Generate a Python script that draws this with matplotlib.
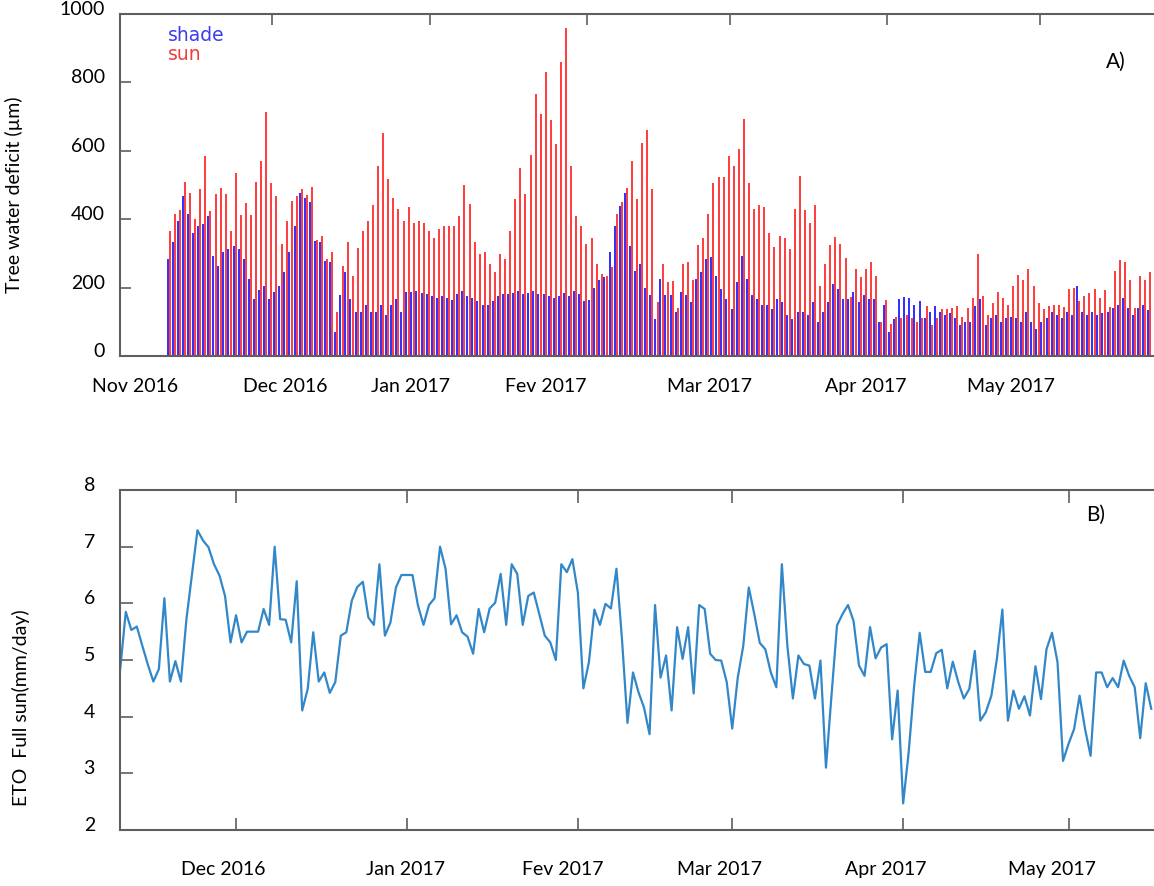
import numpy as np
import matplotlib
matplotlib.use("Agg")
import matplotlib.pyplot as plt
import matplotlib.dates as mdates

plt.rcParams['font.family'] = ['Lato', 'DejaVu Sans']

# --- data ---
# A) daily peak of tree water deficit (um), one value per day from 10 Nov 2016
twd_start = '2016-11-10'
sun_peak = [
    366, 415, 427, 509, 476, 400, 489, 585, 424, 473,
    492, 473, 366, 536, 412, 447, 412, 509, 570, 713,
    505, 468, 327, 395, 454, 468, 489, 470, 494, 340,
    352, 284, 303, 128, 264, 334, 235, 315, 366, 395,
    441, 556, 653, 519, 463, 431, 395, 437, 389, 395,
    390, 366, 344, 371, 381, 381, 381, 408, 499, 444,
    334, 298, 303, 269, 247, 298, 284, 366, 458, 551,
    473, 589, 765, 709, 830, 691, 620, 860, 960, 555,
    410, 381, 327, 344, 269, 240, 235, 260, 415, 450,
    492, 570, 458, 623, 662, 487, 158, 269, 216, 218,
    140, 269, 274, 221, 325, 344, 415, 507, 524, 524,
    585, 557, 606, 693, 507, 429, 441, 437, 359, 318,
    352, 344, 313, 429, 526, 427, 389, 441, 206, 269,
    325, 347, 327, 286, 172, 255, 230, 255, 274, 235,
    99, 163, 95, 114, 110, 120, 110, 100, 110, 146,
    90, 110, 136, 136, 140, 146, 114, 140, 169, 298,
    175, 120, 156, 187, 169, 150, 206, 237, 221, 253,
    206, 156, 138, 146, 148, 148, 143, 195, 199, 160,
    175, 185, 196, 169, 192, 143, 250, 282, 276, 221,
    140, 235, 221, 246,
]
shade_peak = [
    284, 332, 395, 468, 415, 361, 381, 385, 410, 293,
    264, 303, 313, 323, 313, 284, 226, 167, 192, 206,
    167, 187, 206, 245, 303, 381, 476, 463, 449, 337,
    332, 279, 274, 70, 177, 245, 167, 128, 128, 148,
    128, 128, 148, 119, 148, 167, 128, 187, 187, 190,
    185, 180, 175, 170, 175, 170, 165, 180, 190, 175,
    170, 160, 150, 150, 160, 175, 180, 180, 185, 190,
    180, 185, 190, 180, 180, 175, 170, 175, 185, 175,
    190, 180, 160, 165, 200, 221, 230, 303, 381, 439,
    478, 323, 250, 269, 200, 177, 109, 226, 177, 177,
    128, 187, 177, 158, 226, 245, 284, 289, 235, 196,
    167, 138, 216, 293, 226, 177, 167, 148, 148, 138,
    167, 158, 119, 109, 128, 128, 119, 158, 99, 128,
    158, 211, 196, 167, 167, 187, 158, 177, 167, 167,
    99, 148, 70, 109, 167, 172, 169, 150, 162, 110,
    128, 146, 130, 120, 125, 110, 90, 100, 100, 146,
    167, 90, 110, 120, 100, 110, 115, 110, 100, 130,
    100, 80, 100, 110, 130, 120, 110, 130, 120, 206,
    130, 120, 130, 120, 125, 130, 140, 150, 170, 140,
    120, 140, 150, 135,
]

# B) daily ET0 full sun (mm/day), from 10 Nov 2016
eto_start = '2016-11-10'
eto_full_sun = [
    4.85, 5.85, 5.53, 5.59, 5.25, 4.92, 4.62, 4.84, 6.09, 4.62,
    4.98, 4.62, 5.72, 6.50, 7.29, 7.11, 6.99, 6.69, 6.49, 6.13,
    5.31, 5.79, 5.31, 5.50, 5.50, 5.50, 5.90, 5.62, 7.00, 5.72,
    5.71, 5.31, 6.39, 4.11, 4.49, 5.49, 4.62, 4.78, 4.42, 4.61,
    5.43, 5.49, 6.05, 6.29, 6.38, 5.75, 5.62, 6.69, 5.43, 5.66,
    6.28, 6.50, 6.50, 6.50, 5.96, 5.62, 5.97, 6.09, 7.00, 6.61,
    5.63, 5.79, 5.49, 5.41, 5.11, 5.90, 5.49, 5.91, 6.01, 6.52,
    5.62, 6.69, 6.52, 5.62, 6.13, 6.19, 5.81, 5.43, 5.31, 5.00,
    6.69, 6.55, 6.78, 6.19, 4.50, 4.96, 5.89, 5.62, 5.99, 5.91,
    6.61, 5.37, 3.89, 4.78, 4.43, 4.16, 3.69, 5.97, 4.69, 5.08,
    4.11, 5.58, 5.02, 5.58, 4.41, 5.97, 5.90, 5.11, 5.00, 4.99,
    4.61, 3.79, 4.69, 5.25, 6.28, 5.81, 5.30, 5.19, 4.78, 4.52,
    6.69, 5.25, 4.32, 5.08, 4.93, 4.90, 4.32, 4.99, 3.10, 4.37,
    5.61, 5.81, 5.97, 5.69, 4.90, 4.72, 5.58, 5.03, 5.22, 5.28,
    3.60, 4.46, 2.47, 3.37, 4.55, 5.48, 4.79, 4.79, 5.12, 5.18,
    4.50, 4.97, 4.61, 4.32, 4.49, 5.16, 3.93, 4.08, 4.37, 5.02,
    5.89, 3.93, 4.46, 4.14, 4.36, 4.02, 4.89, 4.31, 5.19, 5.48,
    4.96, 3.22, 3.52, 3.78, 4.37, 3.78, 3.31, 4.78, 4.78, 4.52,
    4.68, 4.52, 4.99, 4.72, 4.52, 3.62, 4.59, 4.14,
]

month_ticks = ['2016-12-01', '2017-01-01', '2017-02-01', '2017-03-01',
               '2017-04-01', '2017-05-01']
labels_a = ['Nov 2016', 'Dec 2016', 'Jan 2017', 'Fev 2017', 'Mar 2017',
            'Apr 2017', 'May 2017']
labels_b = ['Dec 2016', 'Jan 2017', 'Fev 2017', 'Mar 2017', 'Apr 2017',
            'May 2017']


def dnum(s):
    return mdates.datestr2num(s)


# --- layout (pixel based, figure is 1154 x 887) ---
W, H = 1154, 887
fig = plt.figure(figsize=(W / 100, H / 100), dpi=100)
ax_a = fig.add_axes([120 / W, 1 - 357 / H, 1034 / W, 342 / H])
ax_b = fig.add_axes([120 / W, 1 - 831 / H, 1034 / W, 340 / H])

spine_col = '#5f5f5f'
for ax in (ax_a, ax_b):
    for side in ('left', 'top', 'bottom'):
        ax.spines[side].set_color(spine_col)
        ax.spines[side].set_linewidth(1.5)
    ax.spines['right'].set_visible(False)

# --- panel A ---
day_a = dnum(twd_start) + np.arange(len(sun_peak))
ax_a.vlines(day_a + 0.8, 0, sun_peak, color='#ff2424', lw=1.25)
ax_a.vlines(day_a + 0.35, 0, shade_peak, color='#2626ff', lw=1.35)

ax_a.set_xlim(dnum('2016-11-01'), dnum('2016-11-01') + 203.5)
ax_a.set_ylim(0, 1000)
ax_a.set_yticks(np.arange(0, 1001, 200), labels=[str(v) for v in range(0, 1001, 200)],
                va='baseline')
ax_a.tick_params(axis='y', direction='in', length=8, width=1.2, color=spine_col,
                 labelsize=14, pad=11)

ax_a.set_xticks([dnum(d) for d in month_ticks])
ax_a.tick_params(axis='x', which='major', direction='in', top=True, bottom=False,
                 labelbottom=False, length=8, width=1.2, color=spine_col)
pos_a = dnum('2016-11-01') + np.array([3.05, 32.5, 57.1, 83.7, 116.1, 146.7, 175.3])
ax_a.set_xticks(pos_a, labels=labels_a, minor=True)
ax_a.tick_params(axis='x', which='minor', bottom=True, top=False, length=0,
                 labelsize=14, pad=15)

ax_a.set_ylabel('Tree water deficit (µm)', fontsize=14)
ax_a.yaxis.label.set_va('center')
ax_a.yaxis.set_label_coords(-0.103, 0.474)

ax_a.text(0.0464, 0.924, 'shade', transform=ax_a.transAxes, color='#3b3bf0',
          fontsize=13.5, family='DejaVu Sans', va='baseline')
ax_a.text(0.0464, 0.868, 'sun', transform=ax_a.transAxes, color='#f03b3b',
          fontsize=13.5, family='DejaVu Sans', va='baseline')
ax_a.text(0.963, 0.8626, 'A)', transform=ax_a.transAxes, fontsize=15,
          ha='center', va='center')

# --- panel B ---
day_b = dnum(eto_start) + np.arange(len(eto_full_sun))
ax_b.plot(day_b, eto_full_sun, color='#3287c9', lw=1.6)

ax_b.set_xlim(dnum(eto_start) - 0.05, dnum(eto_start) - 0.05 + 187.55)
ax_b.set_ylim(2, 8)
ax_b.set_yticks(np.arange(2, 9), labels=[str(v) for v in range(2, 9)], va='baseline')
ax_b.tick_params(axis='y', direction='in', length=9, width=1.2, color=spine_col,
                 labelsize=14, pad=18)

ax_b.set_xticks([dnum(d) for d in month_ticks])
ax_b.tick_params(axis='x', which='major', direction='in', top=True, bottom=True,
                 labelbottom=False, length=9, width=1.2, color=spine_col)
pos_b = dnum(eto_start) + np.array([18.7, 51.7, 80.3, 108.7, 138.8, 168.9])
ax_b.set_xticks(pos_b, labels=labels_b, minor=True)
ax_b.tick_params(axis='x', which='minor', bottom=True, top=False, length=0,
                 labelsize=14, pad=21.5)

ax_b.set_ylabel('ETO  Full sun(mm/day)', fontsize=14)
ax_b.yaxis.label.set_va('center')
ax_b.yaxis.set_label_coords(-0.0957, 0.362)

ax_b.text(0.944, 0.929, 'B)', transform=ax_b.transAxes, fontsize=15,
          ha='center', va='center')

fig.savefig('out.png', dpi=100)
